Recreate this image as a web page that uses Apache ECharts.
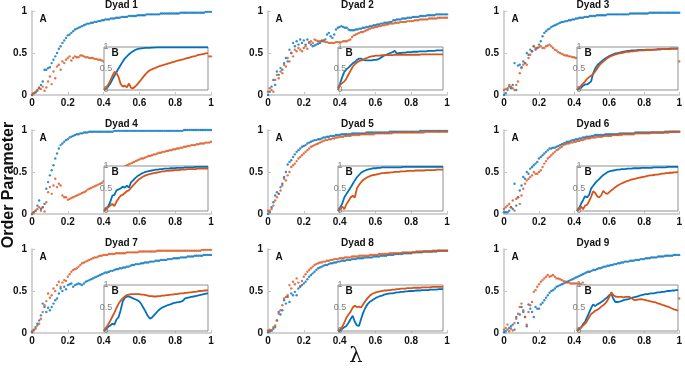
<!DOCTYPE html>
<html>
<head>
<meta charset="utf-8">
<script src="https://cdn.jsdelivr.net/npm/echarts@6/dist/echarts.min.js"></script>
<style>
  html, body { margin: 0; padding: 0; background: #fff; }
  #chart { width: 685px; height: 370px; }
</style>
</head>
<body>
<div id="chart"></div>
<script>
// lambda grid of the main panels (step 0.01) and of the insets (step 0.02)
var lam = [];
for (var i = 0; i <= 100; i++) lam.push(i / 100);
var lamIn = [];
for (var i = 0; i <= 50; i++) lamIn.push(i / 50);

var titles = ["Dyad 1", "Dyad 2", "Dyad 3", "Dyad 4", "Dyad 5", "Dyad 6", "Dyad 7", "Dyad 8", "Dyad 9"];
var xTicks = [0, 0.2, 0.4, 0.6, 0.8, 1];
var yTicks = [0, 0.5, 1];

// ---- panel A (main) values, blue / orange ----
var blue1 = [0,.02,.03,.05,.08,.12,.16,.30,.30,.32, .33,.38,.42,.46,.50,.55,.58,.62,.65,.68,
  .71,.72,.74,.76,.78,.79,.80,.81,.82,.83, .84,.85,.85,.86,.86,.87,.87,.88,.88,.89,
  .89,.90,.90,.90,.91,.91,.91,.92,.92,.92, .93,.93,.93,.93,.94,.94,.94,.94,.94,.95,
  .95,.95,.95,.95,.96,.96,.96,.96,.96,.96, .96,.96,.97,.97,.97,.97,.97,.97,.97,.97,
  .97,.97,.97,.98,.98,.98,.98,.98,.98,.98, .98,.98,.98,.98,.98,.98,.98,.99,.99,.99, .99];
var orange1 = [0,.02,.04,.06,.09,.07,.10,.05,.09,.16, .22,.13,.28,.20,.34,.36,.30,.40,.38,.42,
  .44,.46,.41,.44,.46,.45,.45,.47,.47,.46, .45,.45,.44,.44,.44,.43,.43,.42,.42,.41,
  .40,.38,.36,.35,.34,.33,.33,.33,.33,.34, .34,.35,.35,.36,.36,.37,.37,.38,.38,.39,
  .39,.40,.40,.40,.41,.41,.41,.42,.42,.42, .42,.43,.43,.43,.43,.44,.44,.44,.44,.44,
  .44,.45,.45,.45,.45,.45,.45,.45,.45,.46, .46,.46,.46,.46,.46,.46,.46,.46,.46,.46, .46];

var blue2 = [0,.04,.10,.18,.12,.28,.24,.32,.30,.38, .44,.40,.54,.50,.62,.58,.64,.60,.66,.62,
  .65,.60,.66,.63,.60,.58,.59,.60,.61,.62, .64,.65,.66,.72,.74,.70,.68,.72,.78,.80,
  .81,.82,.81,.80,.80,.78,.77,.77,.77,.78, .78,.79,.79,.80,.80,.81,.81,.82,.82,.83,
  .83,.84,.84,.85,.85,.86,.86,.86,.87,.87, .89,.89,.90,.90,.90,.91,.91,.91,.92,.92,
  .92,.93,.93,.93,.93,.94,.94,.94,.94,.95, .95,.95,.95,.95,.96,.96,.96,.96,.96,.96, .96];
var orange2 = [.04,.08,.06,.04,.18,.24,.20,.28,.26,.36, .34,.44,.40,.50,.46,.54,.52,.56,.54,.52,
  .56,.58,.55,.62,.64,.62,.66,.65,.64,.64, .65,.64,.63,.63,.62,.62,.62,.62,.63,.63,
  .63,.63,.64,.64,.64,.65,.66,.69,.71,.72, .73,.74,.75,.75,.76,.77,.78,.79,.80,.80,
  .81,.81,.82,.82,.83,.83,.84,.84,.85,.85, .85,.86,.86,.86,.87,.87,.87,.87,.88,.88,
  .88,.88,.89,.89,.89,.90,.90,.90,.90,.90, .91,.91,.91,.91,.91,.92,.92,.92,.92,.92, .92];

var blue3 = [0,.02,.06,.10,.08,.12,.38,.06,.35,.36, .33,.40,.38,.50,.48,.54,.52,.58,.54,.56,
  .60,.64,.70,.74,.76,.78,.79,.81,.82,.83, .84,.85,.86,.87,.87,.88,.88,.89,.89,.90,
  .90,.91,.91,.92,.92,.92,.93,.93,.93,.94, .94,.94,.94,.95,.95,.95,.95,.95,.95,.96,
  .96,.96,.96,.96,.96,.96,.96,.96,.96,.96, .96,.96,.97,.97,.97,.97,.97,.97,.97,.97,
  .97,.97,.97,.98,.98,.98,.98,.98,.98,.98, .98,.98,.98,.98,.98,.98,.98,.98,.98,.98, .98];
var orange3 = [.06,.07,.08,.12,.10,.08,.06,.12,.16,.26, .32,.36,.38,.36,.44,.48,.52,.58,.56,.56,
  .57,.58,.56,.56,.58,.59,.60,.58,.56,.54, .53,.51,.50,.49,.48,.47,.47,.46,.46,.45,
  .45,.44,.44,.43,.43,.43,.43,.42,.42,.42, .42,.42,.42,.42,.41,.41,.41,.41,.41,.41,
  .41,.41,.41,.41,.41,.41,.41,.40,.40,.40, .40,.40,.40,.40,.40,.40,.40,.40,.40,.40,
  .40,.40,.40,.40,.40,.40,.40,.40,.40,.40, .40,.40,.40,.40,.40,.40,.40,.40,.40,.40, .40];

var blue4 = [0,.02,.04,.10,.16,.06,.08,.12,.30,.38, .46,.52,.58,.66,.72,.78,.82,.84,.86,.88,
  .89,.91,.92,.93,.94,.95,.95,.96,.96,.97, .97,.97,.98,.98,.98,.98,.98,.98,.98,.98,
  .98,.98,.98,.98,.98,.98,.99,.99,.99,.99, .99,.99,.99,.99,.99,.99,.99,.99,.99,.99,
  .99,.99,.99,.99,.99,.99,.99,.99,.99,.99, .99,.99,.99,.99,.99,.99,.99,.99,.99,.99,
  .99,.99,.99,.99,.99,1,1,1,1,1, 1,1,1,1,1,1,1,1,1,1, 1];
var orange4 = [0,.02,.04,.06,.08,.04,.08,.03,.14,.26, .32,.24,.34,.42,.32,.36,.34,.22,.20,.20,
  .17,.18,.19,.20,.21,.22,.23,.24,.25,.26, .27,.29,.30,.31,.32,.33,.34,.35,.36,.37,
  .39,.41,.42,.44,.45,.47,.48,.50,.51,.53, .54,.55,.57,.58,.59,.60,.61,.62,.63,.64,
  .65,.66,.66,.67,.68,.69,.69,.70,.71,.71, .72,.73,.73,.74,.74,.75,.75,.76,.76,.77,
  .77,.78,.78,.79,.79,.80,.80,.81,.81,.82, .82,.82,.83,.83,.84,.84,.84,.85,.85,.85, .86];

var blue5 = [0,.02,.08,.14,.22,.26,.24,.32,.36,.44, .50,.59,.62,.64,.68,.71,.74,.76,.78,.80,
  .81,.82,.84,.85,.86,.87,.88,.88,.89,.89, .90,.91,.91,.92,.92,.93,.93,.93,.94,.94,
  .94,.95,.95,.95,.95,.95,.95,.96,.96,.96, .96,.96,.96,.96,.96,.97,.97,.97,.97,.97,
  .97,.97,.97,.97,.97,.97,.97,.97,.98,.98, .98,.98,.98,.98,.98,.98,.98,.98,.98,.98,
  .98,.98,.98,.98,.98,.99,.99,.99,.99,.99, .99,.99,.99,.99,.99,.99,.99,.99,.99,.99, .99];
var orange5 = [.04,.04,.06,.10,.16,.20,.24,.28,.34,.42, .40,.46,.50,.56,.58,.60,.63,.66,.68,.70,
  .72,.74,.76,.78,.80,.81,.82,.83,.84,.85, .86,.87,.88,.88,.89,.89,.90,.90,.91,.91,
  .92,.92,.92,.93,.93,.93,.93,.94,.94,.94, .94,.94,.95,.95,.95,.95,.95,.95,.95,.95,
  .96,.96,.96,.96,.96,.96,.96,.96,.96,.96, .97,.97,.97,.97,.97,.97,.97,.97,.97,.97,
  .97,.97,.97,.97,.97,.97,.97,.97,.98,.98, .98,.98,.98,.98,.98,.98,.98,.98,.98,.98, .98];

var blue6 = [.02,.02,.02,.04,.08,.06,.36,.10,.20,.28, .34,.44,.42,.50,.48,.54,.56,.58,.60,.62,
  .66,.68,.70,.72,.74,.76,.78,.78,.79,.79, .80,.81,.82,.83,.84,.85,.86,.86,.87,.88,
  .88,.89,.89,.90,.90,.91,.91,.92,.92,.92, .93,.93,.94,.94,.94,.94,.94,.94,.95,.95,
  .95,.95,.95,.95,.95,.95,.96,.96,.96,.96, .96,.96,.96,.96,.96,.97,.97,.97,.97,.97,
  .97,.97,.97,.97,.97,.97,.97,.97,.97,.97, .97,.97,.98,.98,.98,.98,.98,.98,.98,.98, .98];
var orange6 = [.06,.08,.10,.12,.08,.16,.04,.18,.20,.12, .22,.30,.36,.40,.42,.44,.46,.50,.48,.48,
  .50,.52,.56,.60,.63,.66,.68,.70,.72,.74, .76,.77,.79,.80,.82,.83,.84,.84,.85,.85,
  .86,.86,.87,.87,.88,.88,.89,.90,.90,.90, .91,.91,.91,.92,.92,.92,.92,.93,.93,.93,
  .93,.93,.94,.94,.94,.94,.94,.94,.95,.95, .95,.95,.95,.95,.95,.96,.96,.96,.96,.96,
  .96,.96,.96,.96,.97,.97,.97,.97,.97,.97, .97,.97,.97,.97,.97,.98,.98,.98,.98,.98, .98];

var blue7 = [.01,.04,.07,.11,.15,.21,.35,.31,.25,.30, .27,.31,.35,.39,.41,.47,.53,.50,.55,.52,
  .57,.58,.59,.55,.57,.58,.59,.58,.57,.59, .61,.62,.63,.64,.65,.66,.67,.68,.69,.70,
  .71,.72,.72,.73,.74,.74,.75,.76,.76,.77, .77,.78,.78,.79,.79,.80,.81,.81,.82,.82,
  .82,.83,.83,.84,.84,.84,.85,.85,.85,.86, .86,.86,.87,.87,.87,.87,.88,.88,.88,.89,
  .89,.89,.89,.90,.90,.90,.90,.91,.91,.91, .91,.92,.92,.92,.92,.92,.93,.93,.93,.93, .93];
var orange7 = [.02,.03,.05,.09,.11,.17,.25,.33,.38,.47, .42,.45,.53,.50,.57,.61,.55,.60,.63,.62,
  .67,.70,.73,.75,.76,.77,.79,.81,.83,.84, .85,.86,.87,.88,.89,.90,.90,.91,.92,.92,
  .93,.93,.93,.94,.94,.94,.94,.95,.95,.95, .95,.95,.95,.96,.96,.96,.96,.96,.96,.96,
  .97,.97,.97,.97,.97,.97,.97,.97,.97,.97, .98,.98,.98,.98,.98,.98,.98,.98,.98,.98,
  .98,.98,.98,.98,.98,.98,.98,.98,.98,.98, .98,.98,.98,.98,.98,.99,.99,.99,.99,.99, .99];

var blue8 = [.01,.02,.03,.05,.07,.15,.25,.22,.27,.39, .35,.43,.37,.47,.45,.49,.45,.53,.55,.57,
  .59,.61,.64,.67,.69,.71,.73,.75,.77,.78, .79,.80,.81,.81,.82,.83,.83,.84,.84,.85,
  .85,.86,.86,.86,.87,.87,.87,.88,.88,.88, .89,.89,.89,.89,.90,.90,.90,.90,.90,.91,
  .91,.91,.91,.92,.92,.92,.92,.93,.93,.93, .93,.94,.94,.94,.94,.94,.95,.95,.95,.95,
  .95,.96,.96,.96,.96,.96,.96,.97,.97,.97, .97,.97,.97,.97,.97,.98,.98,.98,.98,.98, .98];
var orange8 = [.03,.04,.03,.07,.09,.15,.23,.27,.33,.41, .43,.45,.57,.53,.61,.58,.65,.60,.56,.62,
  .67,.70,.73,.75,.77,.79,.81,.82,.83,.84, .84,.85,.85,.86,.86,.87,.87,.88,.88,.88,
  .89,.89,.89,.90,.90,.90,.90,.91,.91,.91, .91,.92,.92,.92,.92,.92,.92,.93,.93,.93,
  .93,.93,.94,.94,.94,.94,.94,.94,.95,.95, .95,.95,.95,.95,.95,.96,.96,.96,.96,.96,
  .96,.96,.96,.97,.97,.97,.97,.97,.97,.97, .97,.97,.98,.98,.98,.98,.98,.98,.98,.98, .98];

var blue9 = [.01,.02,.04,.06,.08,.10,.04,.19,.12,.22, .31,.25,.19,.08,.34,.29,.25,.19,.31,.29,
  .29,.34,.36,.39,.42,.45,.48,.50,.51,.53, .55,.56,.57,.58,.59,.60,.61,.62,.63,.64,
  .65,.66,.67,.68,.69,.70,.71,.72,.73,.73, .74,.75,.75,.76,.77,.77,.78,.79,.79,.80,
  .80,.81,.81,.82,.82,.83,.83,.84,.84,.85, .85,.85,.86,.86,.86,.87,.87,.87,.88,.88,
  .88,.89,.89,.89,.90,.90,.90,.90,.91,.91, .91,.91,.92,.92,.92,.92,.92,.93,.93,.93, .93];
var orange9 = [.04,.06,.10,.02,.05,.03,.12,.17,.23,.31, .35,.27,.19,.10,.25,.33,.37,.49,.51,.55,
  .58,.61,.63,.65,.67,.69,.67,.68,.69,.67, .65,.65,.64,.63,.62,.61,.60,.60,.59,.59,
  .59,.59,.59,.59,.58,.60,.57,.56,.55,.55, .54,.54,.53,.53,.52,.52,.51,.51,.50,.50,
  .49,.49,.48,.48,.47,.47,.47,.46,.46,.46, .45,.45,.45,.44,.44,.44,.44,.43,.43,.43,
  .43,.43,.42,.42,.42,.42,.42,.42,.42,.41, .41,.41,.41,.41,.41,.41,.41,.41,.41,.41, .41];

// ---- panel B (inset) values, blue / orange ----
var inBlue1 = [0,.03,.08,.15,.24,.33,.42,.50,.58,.66, .73,.78,.83,.87,.90,.93,.95,.96,.97,.975,
  .98,.98,.98,.985,.985,.99,.99,.99,.99,.99, .99,.99,.99,.99,.99,.99,.99,.99,.99,.99,
  .99,.99,.99,.99,.99,.99,.99,.99,.99,.99, .99];
var inOrange1 = [0,.05,.12,.22,.32,.42,.40,.30,.14,.08, .10,.06,.15,.05,.04,.08,.13,.19,.25,.31,
  .37,.42,.46,.48,.50,.52,.54,.56,.57,.59, .60,.62,.63,.65,.66,.68,.69,.70,.71,.73,
  .74,.75,.77,.78,.79,.81,.82,.83,.84,.85, .86];
var inBlue2 = [.04,.15,.30,.42,.48,.52,.57,.62,.65,.70, .73,.73,.70,.69,.69,.69,.69,.70,.70,.71,
  .74,.77,.80,.82,.84,.86,.88,.91,.85,.86, .86,.87,.87,.88,.88,.88,.89,.89,.89,.90,
  .90,.90,.90,.91,.91,.91,.91,.92,.92,.92, .92];
var inOrange2 = [0,.12,.16,.20,.27,.36,.45,.54,.60,.64, .67,.69,.71,.73,.75,.77,.78,.79,.80,.80,
  .80,.81,.81,.81,.81,.81,.81,.82,.82,.82, .82,.82,.82,.82,.82,.82,.82,.82,.82,.82,
  .83,.83,.83,.83,.83,.83,.83,.83,.83,.83, .83];
var inBlue3 = [0,.03,.05,.10,.13,.13,.16,.20,.39,.50, .57,.62,.66,.70,.73,.76,.79,.81,.83,.85,
  .86,.87,.88,.89,.90,.91,.91,.92,.92,.92, .93,.93,.93,.93,.94,.94,.94,.94,.94,.94,
  .95,.95,.95,.95,.95,.95,.96,.96,.96,.96, .96];
var inOrange3 = [0,.05,.10,.15,.20,.26,.30,.33,.37,.43, .50,.57,.62,.66,.70,.74,.77,.79,.81,.83,
  .84,.85,.86,.87,.88,.89,.89,.90,.90,.91, .91,.92,.92,.92,.93,.93,.93,.93,.94,.94,
  .94,.94,.95,.95,.95,.95,.95,.96,.96,.96, .96];
var inBlue4 = [0,.06,.10,.20,.34,.36,.46,.48,.50,.54, .52,.56,.52,.64,.68,.73,.77,.80,.83,.85,
  .87,.88,.89,.90,.91,.92,.92,.93,.93,.94, .94,.94,.95,.95,.95,.96,.96,.96,.96,.97,
  .97,.97,.97,.97,.98,.98,.98,.98,.98,.98, .98];
var inOrange4 = [0,.04,.08,.12,.16,.11,.21,.28,.34,.36, .40,.44,.46,.52,.57,.62,.67,.71,.74,.77,
  .79,.81,.82,.83,.84,.85,.86,.87,.88,.88, .89,.89,.90,.90,.91,.91,.91,.92,.92,.92,
  .93,.93,.93,.93,.93,.94,.94,.94,.94,.94, .94];
var inBlue5 = [0,.08,.16,.30,.38,.45,.52,.60,.68,.75, .80,.85,.88,.90,.92,.93,.94,.95,.95,.96,
  .96,.97,.97,.97,.97,.97,.97,.97,.97,.97, .97,.98,.98,.98,.98,.98,.98,.98,.98,.98,
  .98,.98,.98,.98,.98,.98,.98,.98,.98,.98, .98];
var inOrange5 = [0,.04,.10,.04,.15,.22,.30,.34,.30,.50, .58,.64,.69,.72,.75,.77,.79,.80,.81,.82,
  .83,.84,.84,.85,.85,.86,.86,.87,.87,.87, .88,.88,.88,.89,.89,.89,.89,.90,.90,.90,
  .90,.90,.91,.91,.91,.91,.91,.92,.92,.92, .92];
var inBlue6 = [0,.06,.16,.24,.33,.30,.36,.50,.56,.62, .67,.71,.76,.80,.83,.86,.88,.89,.90,.91,
  .92,.92,.93,.93,.93,.94,.94,.94,.95,.95, .95,.95,.96,.96,.96,.96,.96,.96,.97,.97,
  .97,.97,.97,.97,.97,.98,.98,.98,.98,.98, .98];
var inOrange6 = [0,.04,.10,.04,.12,.14,.22,.32,.44,.40, .33,.30,.35,.45,.40,.38,.42,.46,.49,.53,
  .56,.59,.61,.63,.65,.67,.68,.70,.71,.72, .73,.74,.75,.76,.77,.78,.79,.79,.80,.81,
  .81,.82,.83,.83,.84,.84,.85,.85,.86,.86, .87];
var inBlue7 = [0,.04,.09,.12,.16,.14,.25,.30,.45,.64, .72,.75,.75,.73,.71,.69,.67,.64,.58,.50,
  .42,.33,.27,.29,.34,.39,.44,.48,.51,.53, .55,.57,.58,.60,.61,.62,.63,.64,.66,.71,
  .72,.73,.74,.75,.76,.77,.78,.79,.80,.81, .82];
var inOrange7 = [0,.07,.14,.22,.31,.40,.50,.59,.66,.71, .75,.78,.79,.80,.80,.80,.80,.80,.79,.79,
  .78,.77,.76,.76,.75,.75,.76,.76,.77,.77, .78,.78,.79,.79,.80,.80,.81,.82,.82,.83,
  .83,.84,.84,.85,.85,.86,.87,.87,.88,.88, .89];
var inBlue8 = [0,.01,.05,.08,.11,.18,.26,.33,.20,.12, .11,.26,.40,.50,.58,.63,.66,.69,.72,.74,
  .76,.77,.79,.80,.81,.82,.82,.83,.84,.84, .85,.85,.86,.86,.87,.87,.87,.88,.88,.88,
  .89,.89,.89,.89,.90,.90,.90,.90,.91,.91, .91];
var inOrange8 = [0,.04,.09,.18,.29,.36,.42,.51,.55,.52, .53,.51,.58,.65,.71,.76,.80,.82,.84,.85,
  .86,.87,.88,.88,.89,.89,.90,.90,.91,.91, .92,.92,.92,.93,.93,.93,.94,.94,.94,.94,
  .95,.95,.95,.95,.95,.96,.96,.96,.96,.96, .96];
var inBlue9 = [0,.04,.07,.15,.20,.30,.40,.50,.58,.54, .58,.60,.63,.66,.70,.73,.78,.81,.70,.63,
  .63,.64,.65,.67,.68,.69,.70,.72,.73,.74, .75,.77,.78,.79,.80,.80,.81,.82,.82,.83,
  .84,.84,.85,.85,.86,.87,.87,.88,.88,.89, .89];
var inOrange9 = [0,.05,.08,.12,.16,.22,.30,.37,.40,.44, .46,.49,.53,.56,.60,.66,.74,.84,.78,.75,
  .74,.74,.74,.73,.74,.74,.74,.71,.68,.67, .68,.69,.69,.68,.67,.66,.65,.64,.63,.62,
  .60,.59,.57,.56,.54,.53,.51,.49,.47,.46, .44];

var blueMain = [blue1, blue2, blue3, blue4, blue5, blue6, blue7, blue8, blue9];
var orangeMain = [orange1, orange2, orange3, orange4, orange5, orange6, orange7, orange8, orange9];
var blueIn = [inBlue1, inBlue2, inBlue3, inBlue4, inBlue5, inBlue6, inBlue7, inBlue8, inBlue9];
var orangeIn = [inOrange1, inOrange2, inOrange3, inOrange4, inOrange5, inOrange6, inOrange7, inOrange8, inOrange9];

var BLUE = "#0072BD", ORANGE = "#D95319";

// layout (pixels)
var colLeft = [32, 268, 504], colW = [179, 179, 178];
var rowTop = [11, 130, 249], rowH = 84;
var inLeft = [104, 338, 577], inW = [104, 105, 101];
var inTop = [47, 166, 285], inH = [43, 45, 46];

function pairs(xs, ys) {
  return ys.map(function(v, j) { return [xs[j], v]; });
}

var grids = [], xAxes = [], yAxes = [], series = [], graphics = [];

for (var k = 0; k < 9; k++) {
  var r = Math.floor(k / 3), c = k % 3;
  // main panel
  grids.push({ left: colLeft[c], top: rowTop[r], width: colW[c], height: rowH, z: 0 });
  // inset panel, white box over the main points
  grids.push({
    left: inLeft[c], top: inTop[r], width: inW[c], height: inH[r],
    show: true, backgroundColor: "#fff", borderColor: "#8f8f8f", borderWidth: 1, z: 3
  });

  xAxes.push({
    gridIndex: 2 * k, type: "value", min: 0, max: 1, interval: 0.2,
    axisLine: { lineStyle: { color: "#c4c4c4", width: 1.5 } },
    axisTick: { inside: true, length: 3, lineStyle: { color: "#c4c4c4" } },
    axisLabel: {
      color: "#111", fontWeight: "bold", fontSize: 10, margin: 3, fontFamily: "Liberation Sans",
      formatter: function(v) { return xTicks.indexOf(Math.round(v * 10) / 10) >= 0 ? String(Math.round(v * 10) / 10) : ""; }
    },
    splitLine: { show: false }
  });
  yAxes.push({
    gridIndex: 2 * k, type: "value", min: 0, max: 1, interval: 0.5,
    axisLine: { show: true, lineStyle: { color: "#c4c4c4", width: 1.5 } },
    axisTick: { show: true, inside: true, length: 3, lineStyle: { color: "#c4c4c4" } },
    axisLabel: {
      color: "#111", fontWeight: "bold", fontSize: 10, margin: 5, fontFamily: "Liberation Sans",
      formatter: function(v) { return String(Math.round(v * 10) / 10); }
    },
    splitLine: { show: false }
  });
  xAxes.push({
    gridIndex: 2 * k + 1, type: "value", min: 0, max: 1, z: 5,
    axisLine: { show: false }, axisTick: { show: false }, axisLabel: { show: false },
    splitLine: { show: false }
  });
  yAxes.push({
    gridIndex: 2 * k + 1, type: "value", min: 0, max: 1, interval: 0.5, z: 5,
    axisLine: { show: false }, axisTick: { show: false },
    axisLabel: {
      color: "#7f7f7f", fontSize: 9, margin: -2, align: "center", fontFamily: "Liberation Sans",
      showMinLabel: true, showMaxLabel: true,
      formatter: function(v) { return yTicks.indexOf(v) >= 0 ? String(v) : ""; }
    },
    splitLine: { show: false }
  });

  series.push({
    type: "scatter", xAxisIndex: 2 * k, yAxisIndex: 2 * k, z: 2, silent: true,
    symbolSize: 2.4, itemStyle: { color: BLUE }, data: pairs(lam, blueMain[k])
  });
  series.push({
    type: "scatter", xAxisIndex: 2 * k, yAxisIndex: 2 * k, z: 2, silent: true,
    symbolSize: 2.4, itemStyle: { color: ORANGE }, data: pairs(lam, orangeMain[k])
  });
  series.push({
    type: "line", xAxisIndex: 2 * k + 1, yAxisIndex: 2 * k + 1, z: 4, silent: true,
    showSymbol: false, lineStyle: { color: BLUE, width: 1.8 }, data: pairs(lamIn, blueIn[k])
  });
  series.push({
    type: "line", xAxisIndex: 2 * k + 1, yAxisIndex: 2 * k + 1, z: 4, silent: true,
    showSymbol: false, lineStyle: { color: ORANGE, width: 1.8 }, data: pairs(lamIn, orangeIn[k])
  });

  // titles and panel letters
  graphics.push({
    type: "text", x: colLeft[c] + colW[c] / 2, y: rowTop[r] - 6, z: 10,
    style: { text: titles[k], font: 'bold 10px "Liberation Sans"', fill: "#111", align: "center", verticalAlign: "middle" }
  });
  graphics.push({
    type: "text", x: colLeft[c] + 11, y: rowTop[r] + 8, z: 10,
    style: { text: "A", font: 'bold 10px "Liberation Sans"', fill: "#111", align: "center", verticalAlign: "middle" }
  });
  graphics.push({
    type: "text", x: inLeft[c] + 11, y: inTop[r] + 6, z: 10,
    style: { text: "B", font: 'bold 10px "Liberation Sans"', fill: "#111", align: "center", verticalAlign: "middle" }
  });
}

graphics.push({
  type: "text", x: 9, y: 185, rotation: Math.PI / 2, z: 10,
  style: { text: "Order Parameter", font: 'bold 16px "Liberation Sans"', fill: "#111", align: "center", verticalAlign: "middle" }
});
graphics.push({
  type: "text", x: 356, y: 357, z: 10,
  style: { text: "λ", font: '21px "DejaVu Serif"', fill: "#111", align: "center", verticalAlign: "middle" }
});

var myChart = echarts.init(document.getElementById("chart"), null, { renderer: "canvas" });
myChart.setOption({
  animation: false,
  backgroundColor: "#fff",
  grid: grids,
  xAxis: xAxes,
  yAxis: yAxes,
  series: series,
  graphic: graphics
});
</script>
</body>
</html>
